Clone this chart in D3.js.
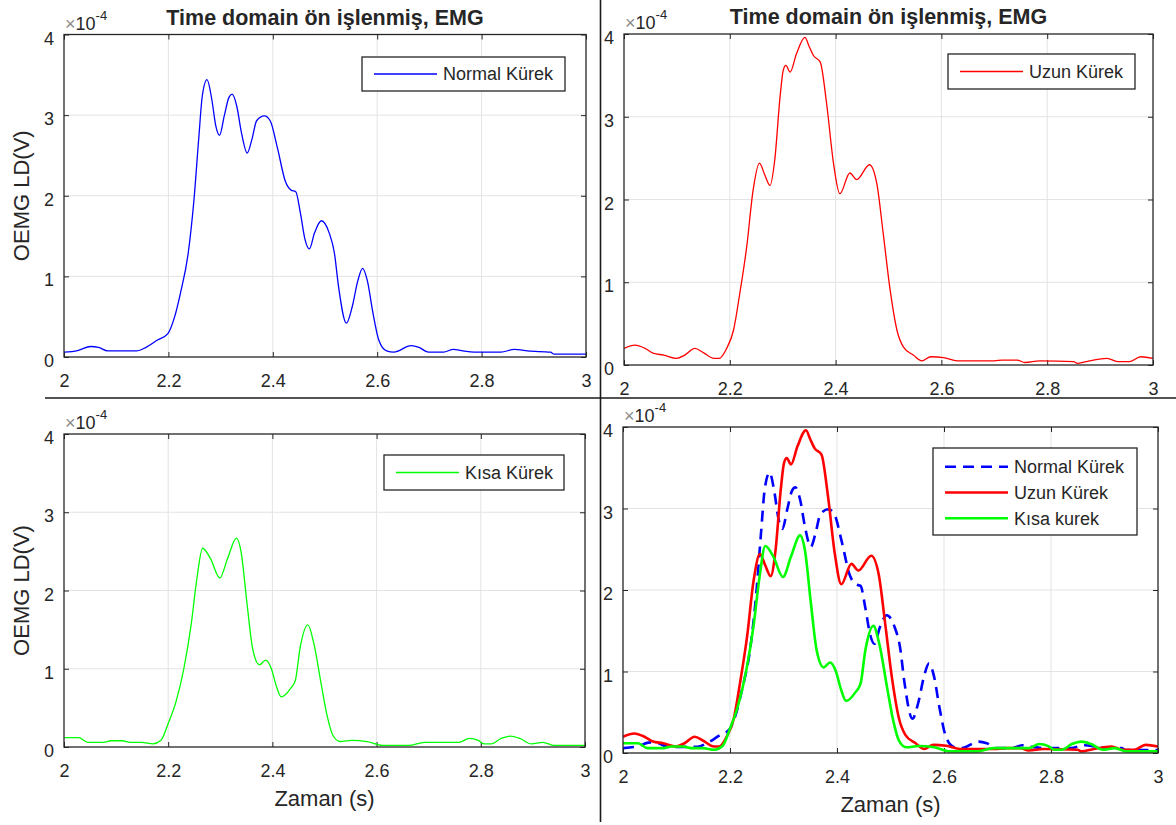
<!DOCTYPE html>
<html>
<head>
<meta charset="utf-8">
<script src="https://cdn.jsdelivr.net/npm/d3@7/dist/d3.min.js"></script>
<style>
  html, body { margin: 0; padding: 0; background: #fff; }
  svg { display: block; }
  text { font-family: "Liberation Sans", Arial, Helvetica, sans-serif; fill: #262626; }
</style>
</head>
<body>
<svg id="chart" width="1176" height="825"></svg>
<script>
// ---------------- DATA (values in units of 1e-4 V) ----------------
const titleText = "Time domain ön işlenmiş, EMG";
const yLabelText = "OEMG LD(V)";
const xLabelText = "Zaman (s)";
const exponent = "-4";

const xTicks = [2, 2.2, 2.4, 2.6, 2.8, 3];
const xTickLabels = ["2", "2.2", "2.4", "2.6", "2.8", "3"];
const yTicks = [0, 1, 2, 3, 4];
const yTickLabels = ["0", "1", "2", "3", "4"];

// Normal Kürek (blue)
const normalTime = [2.000, 2.026, 2.051, 2.066, 2.084, 2.110, 2.139, 2.157, 2.179, 2.199, 2.212, 2.223, 2.238, 2.249, 2.258, 2.265, 2.274, 2.283, 2.291, 2.298, 2.307, 2.316, 2.322, 2.331, 2.340, 2.351, 2.360, 2.369, 2.384, 2.395, 2.409, 2.424, 2.435, 2.444, 2.453, 2.462, 2.470, 2.480, 2.493, 2.508, 2.518, 2.526, 2.541, 2.552, 2.563, 2.572, 2.581, 2.592, 2.603, 2.618, 2.632, 2.665, 2.680, 2.698, 2.727, 2.746, 2.764, 2.786, 2.837, 2.863, 2.888, 2.932, 2.939, 3.000];
const normalValue = [0.06, 0.08, 0.13, 0.12, 0.075, 0.075, 0.075, 0.12, 0.21, 0.29, 0.50, 0.79, 1.29, 1.95, 2.70, 3.24, 3.44, 3.20, 2.86, 2.75, 2.99, 3.22, 3.26, 3.11, 2.78, 2.53, 2.70, 2.93, 2.99, 2.93, 2.59, 2.18, 2.07, 2.05, 1.78, 1.45, 1.34, 1.54, 1.69, 1.54, 1.29, 0.87, 0.42, 0.62, 0.95, 1.10, 0.95, 0.54, 0.21, 0.075, 0.06, 0.14, 0.12, 0.06, 0.06, 0.095, 0.075, 0.06, 0.06, 0.095, 0.075, 0.06, 0.035, 0.035];

// Uzun Kürek (red)
const uzunTime = [2.000, 2.021, 2.040, 2.056, 2.075, 2.099, 2.115, 2.134, 2.150, 2.170, 2.180, 2.194, 2.207, 2.219, 2.232, 2.244, 2.256, 2.266, 2.276, 2.285, 2.295, 2.301, 2.306, 2.314, 2.326, 2.342, 2.350, 2.358, 2.371, 2.383, 2.396, 2.408, 2.427, 2.440, 2.464, 2.478, 2.490, 2.503, 2.516, 2.528, 2.547, 2.563, 2.580, 2.604, 2.630, 2.700, 2.715, 2.743, 2.758, 2.786, 2.850, 2.857, 2.880, 2.913, 2.935, 2.955, 2.977, 3.000];
const uzunValue = [0.20, 0.24, 0.20, 0.14, 0.12, 0.08, 0.12, 0.20, 0.15, 0.08, 0.08, 0.20, 0.42, 0.87, 1.43, 2.11, 2.44, 2.30, 2.17, 2.48, 3.24, 3.56, 3.62, 3.54, 3.76, 3.96, 3.85, 3.74, 3.66, 3.16, 2.44, 2.07, 2.32, 2.24, 2.42, 2.19, 1.59, 0.91, 0.42, 0.22, 0.12, 0.05, 0.10, 0.09, 0.05, 0.05, 0.06, 0.06, 0.03, 0.05, 0.04, 0.02, 0.05, 0.08, 0.04, 0.04, 0.10, 0.08];

// Kısa Kürek (green)
const kisaTime = [2.000, 2.028, 2.046, 2.076, 2.090, 2.112, 2.127, 2.149, 2.171, 2.186, 2.200, 2.215, 2.230, 2.244, 2.255, 2.266, 2.281, 2.299, 2.314, 2.331, 2.340, 2.351, 2.362, 2.375, 2.387, 2.398, 2.407, 2.417, 2.435, 2.444, 2.453, 2.468, 2.479, 2.494, 2.505, 2.516, 2.530, 2.552, 2.582, 2.611, 2.662, 2.692, 2.758, 2.778, 2.795, 2.806, 2.820, 2.839, 2.857, 2.875, 2.897, 2.919, 2.941, 3.000];
const kisaValue = [0.12, 0.12, 0.06, 0.06, 0.08, 0.08, 0.06, 0.06, 0.04, 0.085, 0.30, 0.58, 1.00, 1.56, 2.15, 2.54, 2.41, 2.16, 2.41, 2.67, 2.49, 1.85, 1.26, 1.05, 1.11, 1.00, 0.79, 0.64, 0.75, 0.85, 1.26, 1.56, 1.34, 0.79, 0.40, 0.15, 0.07, 0.085, 0.07, 0.02, 0.02, 0.06, 0.06, 0.11, 0.085, 0.04, 0.04, 0.11, 0.14, 0.11, 0.04, 0.06, 0.02, 0.02];

const seriesNames = ["Normal Kürek", "Uzun Kürek", "Kısa Kürek", "Kısa kurek"];
const seriesColors = ["#0000ff", "#ff0000", "#00ff00"];

// ---------------- LAYOUT ----------------
const svg = d3.select("#chart");
const textColor = "#262626";

const normal = { t: normalTime, v: normalValue, color: seriesColors[0] };
const uzun = { t: uzunTime, v: uzunValue, color: seriesColors[1] };
const kisa = { t: kisaTime, v: kisaValue, color: seriesColors[2] };

const panels = [
  { l: 64, r: 586, t: 34.5, b: 357, title: true, ylabel: true, xlabel: false,
    series: [{ s: normal, name: seriesNames[0] }], lw: 1.3,
    legend: { x: 362, y: 57, w: 203, h: 34 } },
  { l: 624, r: 1153, t: 34, b: 365, title: true, ylabel: false, xlabel: false,
    series: [{ s: uzun, name: seriesNames[1] }], lw: 1.3,
    legend: { x: 948, y: 54, w: 187, h: 35 } },
  { l: 64, r: 585, t: 434, b: 747, title: false, ylabel: true, xlabel: true,
    series: [{ s: kisa, name: seriesNames[2] }], lw: 1.3,
    legend: { x: 384, y: 455, w: 180, h: 35 } },
  { l: 623, r: 1158, t: 427, b: 753, title: false, ylabel: false, xlabel: true,
    series: [{ s: normal, name: seriesNames[0], dash: "11,7" },
             { s: uzun, name: seriesNames[1] },
             { s: kisa, name: seriesNames[3] }], lw: 2.6,
    legend: { x: 933, y: 448, w: 204, h: 87 } }
];

// Divider lines
svg.append("line").attr("x1", 600.5).attr("x2", 600.5).attr("y1", 0).attr("y2", 822)
  .attr("stroke", "#1a1a1a").attr("stroke-width", 1.6);
svg.append("line").attr("x1", 45).attr("x2", 1176).attr("y1", 398).attr("y2", 398)
  .attr("stroke", "#1a1a1a").attr("stroke-width", 1.6);

panels.forEach((p, i) => {
  const g = svg.append("g");
  const x = d3.scaleLinear().domain([2, 3]).range([p.l, p.r]);
  const y = d3.scaleLinear().domain([0, 4]).range([p.b, p.t]);

  // grid
  g.append("g").selectAll("line").data(xTicks.slice(1, -1)).join("line")
    .attr("x1", d => x(d)).attr("x2", d => x(d)).attr("y1", p.t).attr("y2", p.b)
    .attr("stroke", "#e3e3e3").attr("stroke-width", 1);
  g.append("g").selectAll("line").data(yTicks.slice(1, -1)).join("line")
    .attr("y1", d => y(d)).attr("y2", d => y(d)).attr("x1", p.l).attr("x2", p.r)
    .attr("stroke", "#e3e3e3").attr("stroke-width", 1);

  // axes via d3 (inward ticks)
  const xAxisB = d3.axisBottom(x).tickValues(xTicks).tickSize(-5).tickFormat((d, k) => xTickLabels[k]).tickPadding(0);
  const gx = g.append("g").attr("transform", `translate(0,${p.b})`).call(xAxisB);
  gx.select(".domain").remove();
  gx.selectAll("line").attr("stroke", textColor);
  gx.selectAll("text").attr("y", 30).attr("dy", 0).attr("font-size", 18)
    .style("font-family", '"Liberation Sans", Arial, sans-serif').attr("fill", textColor);

  const xAxisT = d3.axisTop(x).tickValues(xTicks).tickSize(-5).tickFormat("");
  const gxt = g.append("g").attr("transform", `translate(0,${p.t})`).call(xAxisT);
  gxt.select(".domain").remove();
  gxt.selectAll("line").attr("stroke", textColor);

  const yAxisL = d3.axisLeft(y).tickValues(yTicks).tickSize(-5).tickFormat((d, k) => yTickLabels[k]).tickPadding(0);
  const gy = g.append("g").attr("transform", `translate(${p.l},0)`).call(yAxisL);
  gy.select(".domain").remove();
  gy.selectAll("line").attr("stroke", textColor);
  gy.selectAll("text").attr("x", -10).attr("dy", 9.5).attr("font-size", 18)
    .style("font-family", '"Liberation Sans", Arial, sans-serif').attr("fill", textColor);

  const yAxisR = d3.axisRight(y).tickValues(yTicks).tickSize(-5).tickFormat("");
  const gyr = g.append("g").attr("transform", `translate(${p.r},0)`).call(yAxisR);
  gyr.select(".domain").remove();
  gyr.selectAll("line").attr("stroke", textColor);

  // clip
  const clipId = "clip" + i;
  svg.append("clipPath").attr("id", clipId).append("rect")
    .attr("x", p.l).attr("y", p.t - 2).attr("width", p.r - p.l).attr("height", p.b - p.t + 2);

  // series
  p.series.forEach(se => {
    const pts = se.s.t.map((t, k) => [t, se.s.v[k]]);
    const line = d3.line().x(d => x(d[0])).y(d => y(d[1])).curve(d3.curveMonotoneX);
    g.append("path").datum(pts).attr("d", line)
      .attr("fill", "none").attr("stroke", se.s.color).attr("stroke-width", p.lw)
      .attr("stroke-dasharray", se.dash || null)
      .attr("stroke-linejoin", "round")
      .attr("clip-path", `url(#${clipId})`);
  });

  // frame
  g.append("rect").attr("x", p.l).attr("y", p.t).attr("width", p.r - p.l).attr("height", p.b - p.t)
    .attr("fill", "none").attr("stroke", textColor).attr("stroke-width", 1.3);

  // exponent label
  const ex = g.append("text").attr("x", p.l + 1).attr("y", p.t - 5).attr("font-size", 18);
  ex.append("tspan").text("×").attr("fill", "#8a8a8a");
  ex.append("tspan").text("10").attr("fill", textColor);
  ex.append("tspan").text(exponent).attr("font-size", 13).attr("dy", -10).attr("fill", textColor);

  // title
  if (p.title) {
    g.append("text").attr("x", (p.l + p.r) / 2).attr("y", p.t - 10)
      .attr("text-anchor", "middle").attr("font-size", 21.5).attr("font-weight", "bold")
      .attr("fill", "#000").text(titleText);
  }
  if (p.ylabel) {
    g.append("text").attr("transform", `translate(29,${(p.t + p.b) / 2}) rotate(-90)`)
      .attr("text-anchor", "middle").attr("font-size", 22).text(yLabelText);
  }
  if (p.xlabel) {
    g.append("text").attr("x", (p.l + p.r) / 2).attr("y", p.b + 59)
      .attr("text-anchor", "middle").attr("font-size", 22).text(xLabelText);
  }

  // legend
  const L = p.legend;
  const lg = g.append("g");
  lg.append("rect").attr("x", L.x).attr("y", L.y).attr("width", L.w).attr("height", L.h)
    .attr("fill", "#fff").attr("stroke", textColor).attr("stroke-width", 1.3);
  const n = p.series.length;
  p.series.forEach((se, k) => {
    const cy = n === 1 ? L.y + L.h / 2 : L.y + 18.7 + k * 25.8;
    lg.append("line").attr("x1", L.x + 12).attr("x2", L.x + 75).attr("y1", cy).attr("y2", cy)
      .attr("stroke", se.s.color).attr("stroke-width", p.lw).attr("stroke-dasharray", se.dash || null);
    lg.append("text").attr("x", L.x + 81).attr("y", cy).attr("dy", "0.35em")
      .attr("font-size", 18).text(se.name);
  });
});
</script>
</body>
</html>
